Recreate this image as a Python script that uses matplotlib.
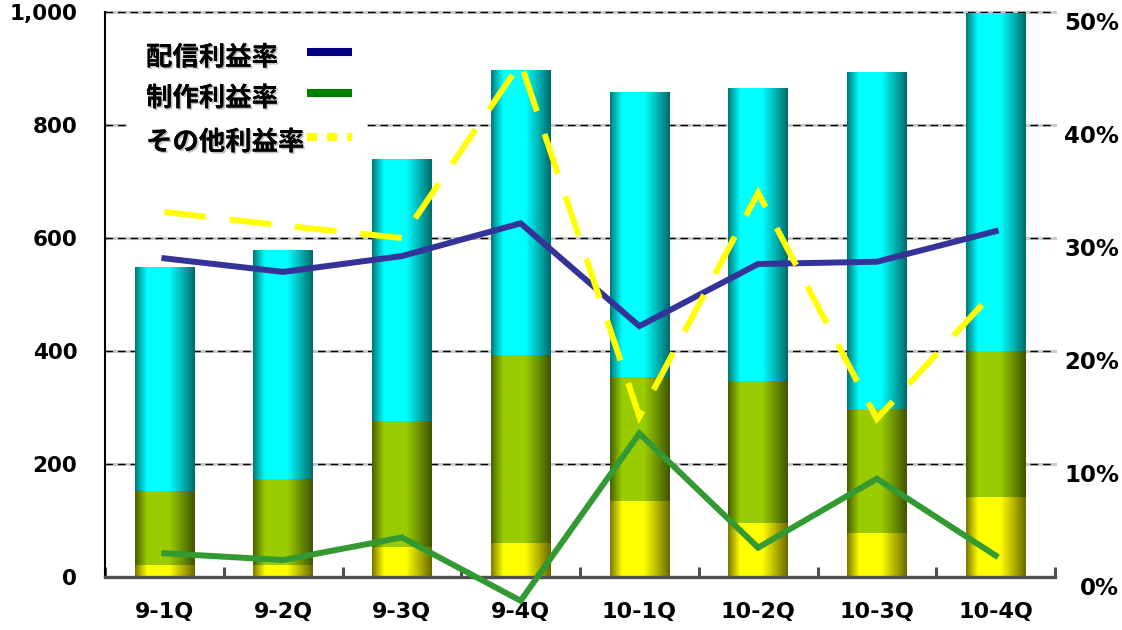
import numpy as np
import matplotlib
matplotlib.use('Agg')
import matplotlib.pyplot as plt
from matplotlib import patheffects
from matplotlib.patches import Rectangle
from matplotlib.ticker import FuncFormatter

# quarterly sales (stacked bars, left axis) and margins (lines, right axis, %)
quarters = ['9-1Q', '9-2Q', '9-3Q', '9-4Q', '10-1Q', '10-2Q', '10-3Q', '10-4Q']
other_sales = [21, 21, 53, 60, 134, 96, 78, 142]
seisaku_sales = [131, 152, 223, 333, 220, 251, 219, 258]
haishin_sales = [395, 405, 462, 504, 504, 518, 596, 597]

haishin_margin = [28.2, 27.0, 28.4, 31.3, 22.2, 27.7, 27.9, 30.6]
seisaku_margin = [2.1, 1.5, 3.5, -2.1, 12.7, 2.6, 8.7, 1.9]
other_margin = [32.3, 31.1, 30.0, 45.5, 14.2, 34.0, 14.0, 25.4]

legend_labels = ['配信利益率', '制作利益率', 'その他利益率']

plt.rcParams['font.weight'] = 'bold'


def cylinder(base, n=64):
    """horizontal shading that makes a flat bar look like a cylinder"""
    t = np.linspace(0, 1, n)
    prof = np.interp(t, [0, .1, .2, .57, .8, 1], [.48, .75, 1, 1, .7, .42])
    return np.clip(np.outer(prof, base), 0, 1)[None, :, :]


fig = plt.figure(figsize=(11.22, 6.30), dpi=100)
ax = fig.add_axes([105 / 1122, 53 / 630, 950 / 1122, 565 / 630])

x = np.arange(len(quarters))
bottom2 = np.add(other_sales, seisaku_sales)
b1 = ax.bar(x, other_sales, 0.5, color='#ffff00', zorder=2)
b2 = ax.bar(x, seisaku_sales, 0.5, bottom=other_sales, color='#99cc00', zorder=2)
b3 = ax.bar(x, haishin_sales, 0.5, bottom=bottom2, color='#00ffff', zorder=2)

for bars, base in [(b1, (1, 1, 0)), (b2, (0.6, 0.8, 0)), (b3, (0, 1, 1))]:
    img = cylinder(np.array(base))
    for p in bars:
        x0, y0 = p.get_xy()
        ax.imshow(img, extent=[x0, x0 + p.get_width(), y0, y0 + p.get_height()],
                  aspect='auto', zorder=2.1, interpolation='bilinear')

ax.set_xlim(-0.5, len(quarters) - 0.5)
ax.set_ylim(0, 1000)
ax.set_yticks(range(0, 1001, 200))
ax.yaxis.set_major_formatter(FuncFormatter(lambda v, p: f'{v:,.0f}'))

for v in ax.get_yticks():
    ax.axhline(v, color='#cccccc', lw=2.2, zorder=1, clip_on=False)
    ax.axhline(v, color='black', lw=1.0, ls=(0, (5.5, 3.5)), zorder=1.1, clip_on=False)

for s in ['top', 'right']:
    ax.spines[s].set_visible(False)
ax.spines['left'].set_linewidth(1.5)
ax.spines['bottom'].set_color('#505050')
ax.spines['bottom'].set_linewidth(2.4)
ax.spines['bottom'].set_zorder(3)

ax.set_xticks(x, quarters)
ax.set_xticks(np.arange(-0.5, len(quarters), 1), minor=True)
ax.tick_params(axis='x', which='major', length=0, pad=18, labelsize=16)
ax.tick_params(axis='x', which='minor', direction='in', length=7, width=2.2, color='#505050')
ax.tick_params(axis='y', length=0, pad=20, labelsize=15.5)

ax2 = ax.twinx()
for s in ax2.spines.values():
    s.set_visible(False)
ax2.set_ylim(0, 50)
ax2.set_yticks(range(0, 51, 10))
ax2.yaxis.set_major_formatter(FuncFormatter(lambda v, p: f'{v:.0f}%'))
ax2.tick_params(axis='y', length=0, pad=46, labelsize=16.5)
for lab in ax2.get_yticklabels():
    lab.set_ha('right')
    lab.set_va('top')

ax2.plot(x, haishin_margin, color='#333399', lw=4.3, zorder=3, clip_on=False,
         solid_joinstyle='miter')
ax2.plot(x, seisaku_margin, color='#339933', lw=4.3, zorder=3, clip_on=False,
         solid_joinstyle='miter')
ax2.plot(x, other_margin, color='#ffff00', lw=4.3, ls=(0, (7, 4)), zorder=3.2,
         clip_on=False, dash_joinstyle='miter')

# legend drawn by hand: text left aligned, short swatches after it
ax2.add_patch(Rectangle((0.023, 0.752), 0.253, 0.23, transform=ax2.transAxes,
                        facecolor='white', edgecolor='none', zorder=4))
shadow = [patheffects.withSimplePatchShadow(offset=(1.2, -1.2), shadow_rgbFace='#999999', alpha=0.6),
          patheffects.Normal()]
rows = [0.929, 0.857, 0.779]
handle_colors = ['#000080', '#008000', '#ffff00']
handle_styles = ['-', '-', (0, (1.25, 1.25))]
for label, fy, c, ls in zip(legend_labels, rows, handle_colors, handle_styles):
    ax2.text(0.0432, fy - 0.01, label, transform=ax2.transAxes, fontsize=19,
             va='center', ha='left', family=['Noto Sans CJK JP', 'DejaVu Sans'],
             fontweight='bold', path_effects=shadow, zorder=5)
    ax2.plot([0.2126, 0.26], [fy, fy], transform=ax2.transAxes, color=c, lw=5.8,
             ls=ls, solid_capstyle='butt', dash_capstyle='butt', zorder=5)

fig.savefig('out.png', dpi=100)
